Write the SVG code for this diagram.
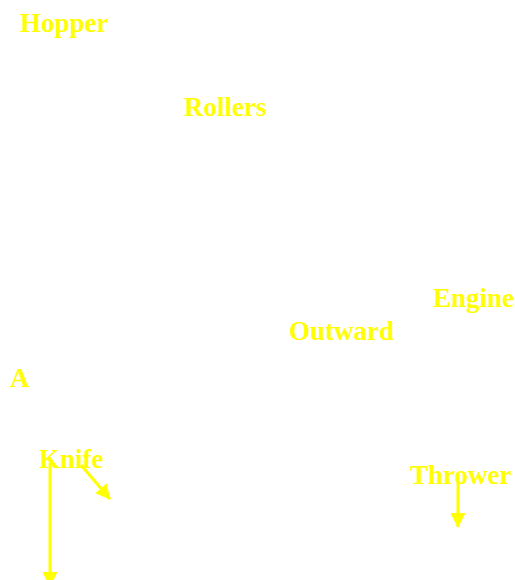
<svg xmlns="http://www.w3.org/2000/svg" width="515" height="580" viewBox="0 0 515 580">
<style>
.lbl{font-family:"Liberation Serif","Times New Roman",serif;font-weight:bold;font-size:27px;fill:#ffff00}
.con{stroke:#ffff00;stroke-width:3;fill:none}
</style>
<defs>
<marker id="ah" markerWidth="5" markerHeight="5" refX="4.7" refY="2.5" orient="auto" markerUnits="strokeWidth">
<path d="M0,0 L5,2.5 L0,5 Z" fill="#ffff00"/>
</marker>
</defs>
<rect width="515" height="580" fill="#ffffff"/>
<g id="hopper"><text class="lbl" x="20" y="32">Hopper</text></g>
<g id="rollers"><text class="lbl" x="184" y="116">Rollers</text></g>
<g id="engine"><text class="lbl" x="433" y="307">Engine</text></g>
<g id="outward"><text class="lbl" x="289" y="340">Outward</text></g>
<g id="a"><text class="lbl" x="10" y="387">A</text></g>
<g id="knife"><text class="lbl" x="39" y="468">Knife</text></g>
<g id="thrower"><text class="lbl" x="410" y="484">Thrower</text></g>
<g id="connectors">
<line class="con" x1="50" y1="463" x2="50" y2="586" marker-end="url(#ah)"/>
<line class="con" x1="81" y1="465" x2="110" y2="499" marker-end="url(#ah)"/>
<line class="con" x1="458" y1="480" x2="458" y2="527" marker-end="url(#ah)"/>
</g>
</svg>
